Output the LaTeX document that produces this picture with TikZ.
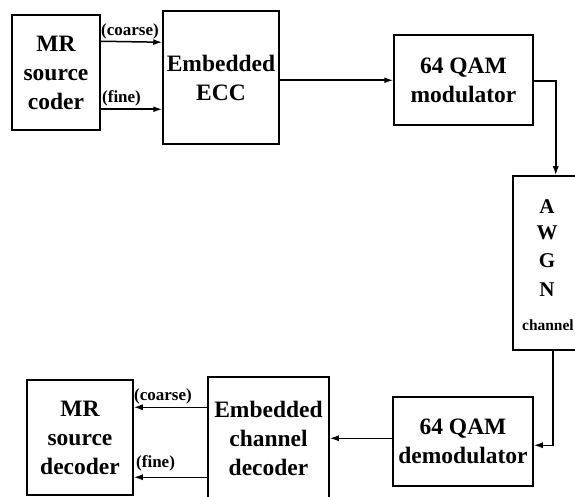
\documentclass[tikz,border=0pt]{standalone}
\usepackage{fontspec}
\setmainfont{Liberation Serif}
\usetikzlibrary{calc,arrows.meta}
\begin{document}
\begin{tikzpicture}[x=1pt,y=-1pt,
  blk/.style={draw, line width=1.5pt, inner sep=0pt, align=center,
    font=\bfseries\fontsize{23.5}{29}\selectfont},
  lbl/.style={inner sep=0pt, font=\bfseries\fontsize{17}{20}\selectfont},
  awg/.style={inner sep=0pt, font=\bfseries\fontsize{21}{24}\selectfont},
  arr/.style={line width=1.5pt, -{Latex[length=9pt,width=6pt]}}]
\clip (0,0) rectangle (575,497);
\useasboundingbox (0,0) rectangle (575,497);
% top row
\node[blk, minimum width=88pt, minimum height=115pt] (src) at (56,72.5) {MR\\source\\coder};
\node[blk, minimum width=116pt, minimum height=133pt] (ecc) at (221,77.5) {Embedded\\ECC};
\node[blk, minimum width=139pt, minimum height=90pt] (mod) at (463.5,80) {64 QAM\\modulator};
% AWGN channel
\node[draw, line width=1.5pt, minimum width=90pt, minimum height=174pt, inner sep=0pt] (awgn) at (558,263) {};
\node[awg] (a1) at (547,207) {A};
\node[awg] (a2) at (547,233) {W};
\node[awg] (a3) at (547,261) {G};
\node[awg] (a4) at (547,290) {N};
\node[inner sep=0pt, anchor=east, font=\bfseries\fontsize{15.5}{18}\selectfont] (a5) at (574,325) {channel};
% bottom row
\node[blk, minimum width=106pt, minimum height=115pt] (sdec) at (80,437.5) {MR\\source\\decoder};
\node[blk, minimum width=121pt, minimum height=123pt] (cdec) at (268.5,438.5) {Embedded\\channel\\decoder};
\node[blk, minimum width=140pt, minimum height=89pt] (dem) at (463,441.5) {64 QAM\\demodulator};
% connectors top
\draw[arr] ($(src.north east)+(0,27)$) -- ($(ecc.north west)+(0,32)$);
\draw[arr] ($(src.north east)+(0,95)$) -- ($(ecc.north west)+(0,99)$);
\node[lbl, anchor=south west] (c1) at (101,39) {(coarse)};
\node[lbl, anchor=south west] (f1) at (102,106) {(fine)};
\draw[arr] ($(ecc.north east)+(0,70)$) -- ($(mod.north west)+(0,46)$);
\coordinate (m1) at ($(mod.north east)+(22,47)$);
\draw[arr] ($(mod.north east)+(0,47)$) -- (m1) -- (m1 |- awgn.north);
% connectors bottom
\coordinate (m2) at ($(dem.north east)+(19,49)$);
\draw[arr] (m2 |- awgn.south) -- (m2) -- ($(dem.north east)+(0,49)$);
\draw[arr] ($(dem.north west)+(0,42)$) -- ($(cdec.north east)+(0,62)$);
\draw[arr] ($(cdec.north west)+(0,31)$) -- ($(sdec.north east)+(0,28)$);
\draw[arr] ($(cdec.north west)+(0,101)$) -- ($(sdec.north east)+(0,98)$);
\node[lbl, anchor=south west] (c2) at (134,404) {(coarse)};
\node[lbl, anchor=south west] (f2) at (136,471) {(fine)};
\end{tikzpicture}
\end{document}
